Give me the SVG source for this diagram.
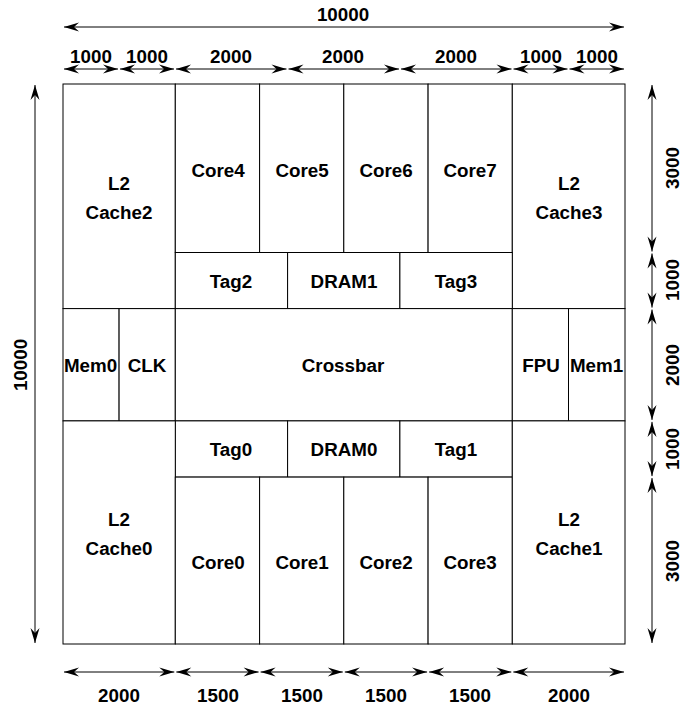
<svg xmlns="http://www.w3.org/2000/svg" width="682" height="709" viewBox="0 0 682 709">
<style>
.b{fill:#fff;stroke:#000;stroke-width:1}
text{font-family:"Liberation Sans",Arial,sans-serif;font-weight:bold;font-size:18.8px;fill:#000;text-anchor:middle;dominant-baseline:central}
.d{stroke:#000;stroke-width:1;fill:none;marker-start:url(#ah);marker-end:url(#ah)}
</style>
<defs>
<marker id="ah" markerUnits="userSpaceOnUse" viewBox="-16 -5 17 10" refX="0" refY="0" markerWidth="17" markerHeight="10" orient="auto-start-reverse">
<path d="M0,0 L-15,-4.5 L-10,0 L-15,4.5 Z" fill="#000"/>
</marker>
</defs>
<rect width="682" height="709" fill="#fff"/>
<g id="l2cache2"><rect class="b" x="63" y="84" width="112.3" height="224.6"/><text x="119" y="183">L2</text><text x="119" y="212">Cache2</text></g>
<g id="core4"><rect class="b" x="175.3" y="84" width="84.3" height="168.5"/><text x="218" y="170">Core4</text></g>
<g id="core5"><rect class="b" x="259.6" y="84" width="84.2" height="168.5"/><text x="302" y="170">Core5</text></g>
<g id="core6"><rect class="b" x="343.8" y="84" width="84.3" height="168.5"/><text x="386" y="170">Core6</text></g>
<g id="core7"><rect class="b" x="428.1" y="84" width="84.2" height="168.5"/><text x="470" y="170">Core7</text></g>
<g id="l2cache3"><rect class="b" x="512.3" y="84" width="112.7" height="224.6"/><text x="569" y="183">L2</text><text x="569" y="212">Cache3</text></g>
<g id="tag2"><rect class="b" x="175.3" y="252.5" width="112.3" height="56.1"/><text x="231" y="281">Tag2</text></g>
<g id="dram1"><rect class="b" x="287.6" y="252.5" width="112.3" height="56.1"/><text x="344" y="281">DRAM1</text></g>
<g id="tag3"><rect class="b" x="399.9" y="252.5" width="112.4" height="56.1"/><text x="456" y="281">Tag3</text></g>
<g id="mem0"><rect class="b" x="63" y="308.6" width="56.1" height="112.3"/><text x="90.5" y="365">Mem0</text></g>
<g id="clk"><rect class="b" x="119.1" y="308.6" width="56.2" height="112.3"/><text x="147" y="365">CLK</text></g>
<g id="crossbar"><rect class="b" x="175.3" y="308.6" width="337" height="112.3"/><text x="343" y="365">Crossbar</text></g>
<g id="fpu"><rect class="b" x="512.3" y="308.6" width="56.2" height="112.3"/><text x="541" y="365">FPU</text></g>
<g id="mem1"><rect class="b" x="568.5" y="308.6" width="56.5" height="112.3"/><text x="596.5" y="365">Mem1</text></g>
<g id="tag0"><rect class="b" x="175.3" y="420.9" width="112.3" height="56.2"/><text x="231" y="449">Tag0</text></g>
<g id="dram0"><rect class="b" x="287.6" y="420.9" width="112.3" height="56.2"/><text x="344" y="449">DRAM0</text></g>
<g id="tag1"><rect class="b" x="399.9" y="420.9" width="112.4" height="56.2"/><text x="456" y="449">Tag1</text></g>
<g id="l2cache0"><rect class="b" x="63" y="420.9" width="112.3" height="223.1"/><text x="119" y="519">L2</text><text x="119" y="548">Cache0</text></g>
<g id="core0"><rect class="b" x="175.3" y="477.1" width="84.3" height="166.9"/><text x="218" y="562">Core0</text></g>
<g id="core1"><rect class="b" x="259.6" y="477.1" width="84.2" height="166.9"/><text x="302" y="562">Core1</text></g>
<g id="core2"><rect class="b" x="343.8" y="477.1" width="84.3" height="166.9"/><text x="386" y="562">Core2</text></g>
<g id="core3"><rect class="b" x="428.1" y="477.1" width="84.2" height="166.9"/><text x="470" y="562">Core3</text></g>
<g id="l2cache1"><rect class="b" x="512.3" y="420.9" width="112.7" height="223.1"/><text x="569" y="519">L2</text><text x="569" y="548">Cache1</text></g>
<g id="connectors">
<line class="d" x1="64" y1="27" x2="624" y2="27"/>
<line class="d" x1="64" y1="69" x2="118" y2="69"/>
<line class="d" x1="120" y1="69" x2="174" y2="69"/>
<line class="d" x1="176" y1="69" x2="286.5" y2="69"/>
<line class="d" x1="288.5" y1="69" x2="399" y2="69"/>
<line class="d" x1="401" y1="69" x2="511.5" y2="69"/>
<line class="d" x1="513.5" y1="69" x2="567.5" y2="69"/>
<line class="d" x1="569.5" y1="69" x2="624" y2="69"/>
<line class="d" x1="64" y1="672" x2="174.3" y2="672"/>
<line class="d" x1="176.3" y1="672" x2="258.6" y2="672"/>
<line class="d" x1="260.6" y1="672" x2="342.8" y2="672"/>
<line class="d" x1="344.8" y1="672" x2="427.1" y2="672"/>
<line class="d" x1="429.1" y1="672" x2="511.3" y2="672"/>
<line class="d" x1="513.3" y1="672" x2="624" y2="672"/>
<line class="d" x1="35" y1="85" x2="35" y2="643"/>
<line class="d" x1="652" y1="85" x2="652" y2="251.5"/>
<line class="d" x1="652" y1="253.5" x2="652" y2="307.6"/>
<line class="d" x1="652" y1="309.6" x2="652" y2="419.9"/>
<line class="d" x1="652" y1="421.9" x2="652" y2="476.1"/>
<line class="d" x1="652" y1="478.1" x2="652" y2="643"/>
</g>
<g id="labels">
<text x="343" y="14">10000</text>
<text x="91" y="56">1000</text><text x="147" y="56">1000</text>
<text x="231" y="56">2000</text><text x="343" y="56">2000</text><text x="456" y="56">2000</text>
<text x="541" y="56">1000</text><text x="597" y="56">1000</text>
<text x="119" y="695">2000</text><text x="218" y="695">1500</text><text x="302" y="695">1500</text>
<text x="386" y="695">1500</text><text x="470" y="695">1500</text><text x="569" y="695">2000</text>
<text transform="translate(20,365) rotate(-90)">10000</text>
<text transform="translate(672,168) rotate(-90)">3000</text>
<text transform="translate(672,280) rotate(-90)">1000</text>
<text transform="translate(672,365) rotate(-90)">2000</text>
<text transform="translate(672,449) rotate(-90)">1000</text>
<text transform="translate(672,561) rotate(-90)">3000</text>
</g>
</svg>
